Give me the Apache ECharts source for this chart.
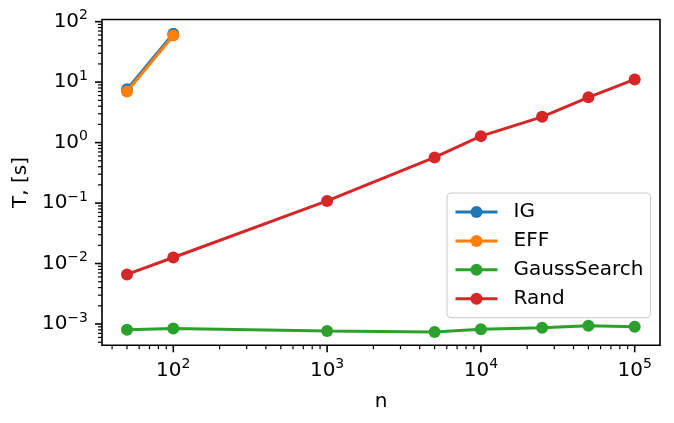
<!DOCTYPE html>
<html>
<head>
<meta charset="utf-8">
<script src="https://cdn.jsdelivr.net/npm/echarts@6/dist/echarts.min.js"></script>
<style>
html,body{margin:0;padding:0;background:#fff;}
#chart{width:674px;height:423px;}
</style>
</head>
<body>
<div id="chart"></div>
<script>
// ---- data ----
const nIG = [50, 100];
const tIG = [7.6, 63];
const nEFF = [50, 100];
const tEFF = [7.0, 59];
const nGauss = [50, 100, 1000, 5000, 10000, 25000, 50000, 100000];
const tGauss = [8.07e-4, 8.4e-4, 7.66e-4, 7.4e-4, 8.17e-4, 8.7e-4, 9.4e-4, 9.05e-4];
const nRand = [50, 100, 1000, 5000, 10000, 25000, 50000, 100000];
const tRand = [0.0066, 0.0126, 0.1087, 0.569, 1.28, 2.67, 5.6, 11.1];
const seriesNames = ['IG', 'EFF', 'GaussSearch', 'Rand'];
const colors = ['#1f77b4', '#ff7f0e', '#2ca02c', '#d62728'];
const xLabel = 'n';
const yLabel = 'T, [s]';

// axis ranges (log10 exponents)
const xMin = Math.pow(10, 1.5364), xMax = Math.pow(10, 5.1645);
const yMin = Math.pow(10, -3.352), yMax = Math.pow(10, 2.036);

function pairs(xs, ys) { return xs.map((x, i) => [x, ys[i]]); }

// tick values (major = powers of ten, minor = 2..9 x powers)
function logTicks(lo, hi, kLo, kHi) {
  const out = [];
  for (let k = kLo; k <= kHi; k++) {
    for (let m = 1; m <= 9; m++) {
      const v = m * Math.pow(10, k);
      if (v >= lo * 0.9999 && v <= hi * 1.0001) out.push([v, m === 1 ? 1 : 0]);
    }
  }
  return out;
}
const xTicks = logTicks(xMin, xMax, 1, 5);
const yTicks = logTicks(yMin, yMax, -4, 2);

const FONT = 'DejaVu Sans';

function powLabel(v) {
  const l = Math.log10(v);
  const k = Math.round(l);
  if (Math.abs(l - k) > 1e-6) return '';
  const ks = k < 0 ? '\u2212' + (-k) : '' + k;
  return '{b|10}{s|' + ks + '}';
}
const richLab = {
  b: {fontSize: 20, fontFamily: FONT, color: '#000', lineHeight: 20},
  s: {fontSize: 14, fontFamily: FONT, color: '#000', lineHeight: 14, padding: [0, 0, 12, 0]}
};

const lineSeries = [[nIG, tIG], [nEFF, tEFF], [nGauss, tGauss], [nRand, tRand]].map((d, i) => ({
  name: seriesNames[i],
  type: 'line',
  data: pairs(d[0], d[1]),
  symbol: 'circle',
  symbolSize: 12,
  showSymbol: true,
  lineStyle: {width: 3, color: colors[i]},
  itemStyle: {color: colors[i]},
  emphasis: {disabled: true},
  z: 2 + i * 0.01
}));

const tickSeriesX = {
  type: 'custom',
  name: 'xticks',
  data: xTicks.map(t => [t[0], yMin, t[1]]),
  encode: {x: 0, y: 1},
  clip: false,
  silent: true,
  z: 10,
  renderItem: function (params, api) {
    const major = api.value(2) === 1;
    const p = api.coord([api.value(0), yMin]);
    const len = major ? 7 : 4;
    return {type: 'line', shape: {x1: p[0], y1: p[1], x2: p[0], y2: p[1] + len},
      style: {stroke: '#000', lineWidth: major ? 1.6 : 1.2}};
  }
};
const tickSeriesY = {
  type: 'custom',
  name: 'yticks',
  data: yTicks.map(t => [xMin, t[0], t[1]]),
  encode: {x: 0, y: 1},
  clip: false,
  silent: true,
  z: 10,
  renderItem: function (params, api) {
    const major = api.value(2) === 1;
    const p = api.coord([xMin, api.value(1)]);
    const len = major ? 7 : 4;
    return {type: 'line', shape: {x1: p[0], y1: p[1], x2: p[0] - len, y2: p[1]},
      style: {stroke: '#000', lineWidth: major ? 1.6 : 1.2}};
  }
};

const chart = echarts.init(document.getElementById('chart'), null, {renderer: 'canvas'});
chart.setOption({
  animation: false,
  backgroundColor: '#fff',
  textStyle: {fontFamily: FONT},
  grid: {left: 102, top: 19.5, right: 14, bottom: 77.7, show: true, borderColor: '#000', borderWidth: 1.6, backgroundColor: 'transparent', z: 20},
  legend: {
    data: seriesNames,
    orient: 'vertical',
    left: 447, top: 193,
    padding: [9, 7, 9, 7],
    itemGap: 8.9,
    itemWidth: 42,
    itemHeight: 15,
    lineStyle: {width: 3},
    backgroundColor: 'rgba(255,255,255,0.8)',
    borderColor: '#cccccc',
    borderWidth: 1,
    borderRadius: 4,
    textStyle: {fontSize: 20, color: '#000', fontFamily: FONT, padding: [0, 0, 0, 11]},
    selectedMode: false,
    z: 30
  },
  xAxis: {
    type: 'log', logBase: 10, min: xMin, max: xMax,
    name: xLabel, nameLocation: 'middle', nameGap: 46,
    nameTextStyle: {fontSize: 20, color: '#000', fontFamily: FONT},
    axisLine: {show: false}, axisTick: {show: false}, splitLine: {show: false}, minorTick: {show: false},
    axisLabel: {margin: 15, formatter: powLabel, rich: richLab, showMinLabel: true, showMaxLabel: true}
  },
  yAxis: {
    type: 'log', logBase: 10, min: yMin, max: yMax,
    name: yLabel, nameLocation: 'middle', nameGap: 67, nameRotate: 90,
    nameTextStyle: {fontSize: 20, color: '#000', fontFamily: FONT},
    axisLine: {show: false}, axisTick: {show: false}, splitLine: {show: false}, minorTick: {show: false},
    axisLabel: {margin: 14, formatter: powLabel, rich: richLab, showMinLabel: true, showMaxLabel: true}
  },
  series: lineSeries.concat([tickSeriesX, tickSeriesY])
});
</script>
</body>
</html>
